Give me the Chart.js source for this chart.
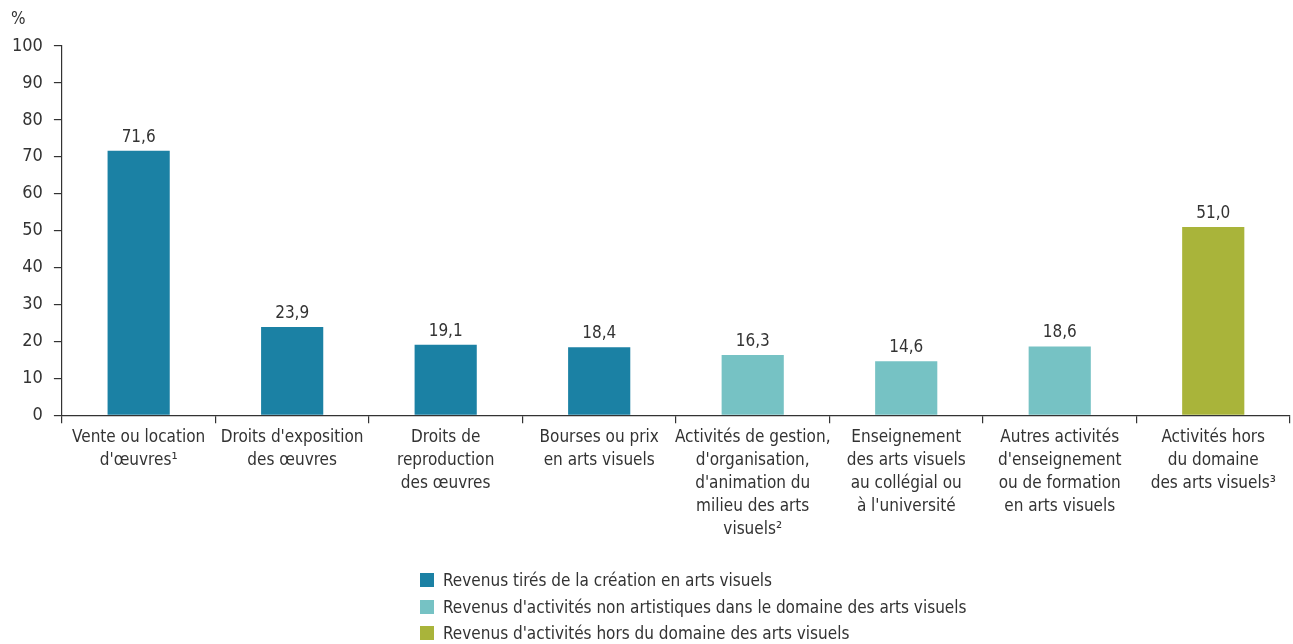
<!DOCTYPE html>
<html>
<head>
<meta charset="utf-8">
<script src="https://cdn.jsdelivr.net/npm/chart.js@4.4.1/dist/chart.umd.min.js"></script>
<style>
  body { margin: 0; background: #fff; }
  #wrap { position: relative; width: 1293px; height: 644px; }
  #legend { position: absolute; left: 420px; top: 569px; font-family: "Liberation Sans Narrow", "DejaVu Sans Condensed", sans-serif; font-size: 17px; color: #333; }
  #legend div { height: 26.5px; line-height: 22px; }
  #legend span { display: inline-block; width: 14px; height: 14px; margin-right: 9px; vertical-align: -1px; }
</style>
</head>
<body>
<div id="wrap">
  <canvas id="chart1" width="1293" height="644"></canvas>
  <div id="legend"></div>
</div>
<script>
const FONT = '"Liberation Sans Narrow", "DejaVu Sans Condensed", sans-serif';

const categories = [
  ["Vente ou location", "d'œuvres¹"],
  ["Droits d'exposition", "des œuvres"],
  ["Droits de", "reproduction", "des œuvres"],
  ["Bourses ou prix", "en arts visuels"],
  ["Activités de gestion,", "d'organisation,", "d'animation du", "milieu des arts", "visuels²"],
  ["Enseignement", "des arts visuels", "au collégial ou", "à l'université"],
  ["Autres activités", "d'enseignement", "ou de formation", "en arts visuels"],
  ["Activités hors", "du domaine", "des arts visuels³"]
];

const seriesNames = [
  "Revenus tirés de la création en arts visuels",
  "Revenus d'activités non artistiques dans le domaine des arts visuels",
  "Revenus d'activités hors du domaine des arts visuels"
];
const creationValues = [71.6, 23.9, 19.1, 18.4, null, null, null, null];
const nonArtValues = [null, null, null, null, 16.3, 14.6, 18.6, null];
const outsideValues = [null, null, null, null, null, null, null, 51.0];
const seriesColors = ["#1b81a4", "#76c2c4", "#a9b43a"];
const yTicks = [0, 10, 20, 30, 40, 50, 60, 70, 80, 90, 100];

// étiquettes de valeurs au-dessus des barres + "%" en haut à gauche
const labelsPlugin = {
  id: "valueLabels",
  afterDatasetsDraw(chart) {
    const ctx = chart.ctx;
    ctx.save();
    ctx.font = "17px " + FONT;
    ctx.fillStyle = "#333";
    ctx.textAlign = "center";
    ctx.textBaseline = "bottom";
    chart.data.datasets.forEach((ds, i) => {
      chart.getDatasetMeta(i).data.forEach((bar, j) => {
        const v = ds.data[j];
        if (v === null) return;
        ctx.fillText(v.toFixed(1).replace(".", ","), bar.x, bar.y - 5);
      });
    });
    ctx.textAlign = "left";
    ctx.textBaseline = "alphabetic";
    ctx.fillText("%", 11, 24);
    ctx.restore();
  }
};

const ctx1 = document.getElementById("chart1");
const chart1 = new Chart(ctx1, {
  type: "bar",
  data: {
    labels: categories,
    datasets: [
      { label: seriesNames[0], data: creationValues, backgroundColor: seriesColors[0] },
      { label: seriesNames[1], data: nonArtValues, backgroundColor: seriesColors[1] },
      { label: seriesNames[2], data: outsideValues, backgroundColor: seriesColors[2] }
    ]
  },
  options: {
    responsive: false,
    animation: false,
    layout: { padding: { top: 46, left: 1, right: 3, bottom: 100 } },
    categoryPercentage: 0.405,
    barPercentage: 1,
    plugins: {
      legend: { display: false },
      tooltip: { enabled: false }
    },
    scales: {
      x: {
        stacked: true,
        border: { color: "#333", width: 1.2 },
        grid: { offset: true, drawOnChartArea: false, tickLength: 8, color: "#333", lineWidth: 1.2 },
        ticks: { color: "#333", font: { family: FONT, size: 17, lineHeight: 1.35 }, maxRotation: 0, autoSkip: false, padding: 3 }
      },
      y: {
        stacked: true,
        min: 0,
        max: 100,
        afterBuildTicks: axis => { axis.ticks = yTicks.map(v => ({ value: v })); },
        border: { color: "#333", width: 1.2 },
        grid: { drawOnChartArea: false, tickLength: 8, color: "#333", lineWidth: 1.2 },
        ticks: { color: "#333", font: { family: FONT, size: 18 }, padding: 11 }
      }
    }
  },
  plugins: [labelsPlugin]
});

const legend = document.getElementById("legend");
seriesNames.forEach((name, i) => {
  const row = document.createElement("div");
  row.innerHTML = '<span style="background:' + seriesColors[i] + '"></span>' + name;
  legend.appendChild(row);
});
</script>
</body>
</html>
